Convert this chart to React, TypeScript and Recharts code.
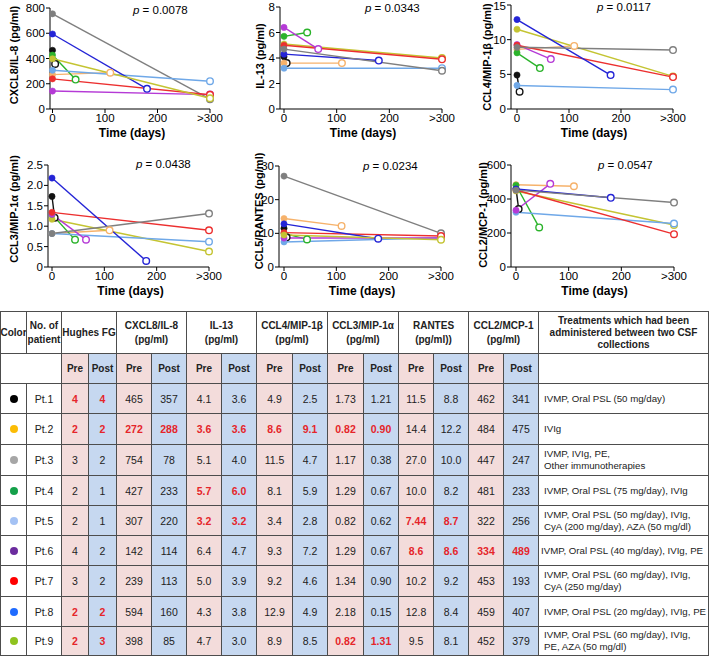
import React from 'react';
import { LineChart, Line, XAxis, YAxis } from 'recharts';

const FONT = '"Liberation Sans", Arial, Helvetica, sans-serif';

// ---------- data ----------
const patients = ['Pt.1', 'Pt.2', 'Pt.3', 'Pt.4', 'Pt.5', 'Pt.6', 'Pt.7', 'Pt.8', 'Pt.9'];
const dotColors = ['#000000', '#fbbc05', '#a6a6a6', '#14a04a', '#a4c2f4', '#6b2c9e', '#ff0000', '#1f6bff', '#8fc31f'];
const lineColors = ['#111111', '#f6b26b', '#7f7f7f', '#2bb32b', '#6fa8e8', '#b53ad6', '#ec2f2f', '#2424d6', '#c4c432'];
const postDays = [5, 110, 300, 44, 300, 65, 300, 180, 300];

const hughesPre = ['4', '2', '3', '2', '2', '4', '3', '2', '2'];
const hughesPost = ['4', '2', '2', '1', '1', '2', '2', '2', '3'];
const cxcl8Pre = ['465', '272', '754', '427', '307', '142', '239', '594', '398'];
const cxcl8Post = ['357', '288', '78', '233', '220', '114', '113', '160', '85'];
const il13Pre = ['4.1', '3.6', '5.1', '5.7', '3.2', '6.4', '5.0', '4.3', '4.7'];
const il13Post = ['3.6', '3.6', '4.0', '6.0', '3.2', '4.7', '3.9', '3.8', '3.0'];
const ccl4Pre = ['4.9', '8.6', '11.5', '8.1', '3.4', '9.3', '9.2', '12.9', '8.9'];
const ccl4Post = ['2.5', '9.1', '4.7', '5.9', '2.8', '7.2', '4.6', '4.9', '8.5'];
const ccl3Pre = ['1.73', '0.82', '1.17', '1.29', '0.82', '1.29', '1.34', '2.18', '0.82'];
const ccl3Post = ['1.21', '0.90', '0.38', '0.67', '0.62', '0.67', '0.90', '0.15', '1.31'];
const rantesPre = ['11.5', '14.4', '27.0', '10.0', '7.44', '8.6', '10.2', '12.8', '9.5'];
const rantesPost = ['8.8', '12.2', '10.0', '8.2', '8.7', '8.6', '9.2', '8.4', '8.1'];
const ccl2Pre = ['462', '484', '447', '481', '322', '334', '453', '459', '452'];
const ccl2Post = ['341', '475', '247', '233', '256', '489', '193', '407', '379'];

const treatments = [
  ['IVMP, Oral PSL (50 mg/day)'],
  ['IVIg'],
  ['IVMP, IVIg, PE,', 'Other immunotherapies'],
  ['IVMP, Oral PSL (75 mg/day), IVIg'],
  ['IVMP, Oral PSL (50 mg/day), IVIg,', 'CyA (200 mg/day), AZA (50 mg/dl)'],
  ['IVMP, Oral PSL (40 mg/day), IVIg, PE'],
  ['IVMP, Oral PSL (60 mg/day), IVIg,', 'CyA (250 mg/day)'],
  ['IVMP, Oral PSL (20 mg/day), IVIg, PE'],
  ['IVMP, Oral PSL (60 mg/day), IVIg,', 'PE, AZA (50 mg/dl)'],
];

const tableGroups = [
  { name: ['Hughes FG'], pre: hughesPre, post: hughesPost, red: [0, 1, 7, 8] },
  { name: ['CXCL8/IL-8', '(pg/ml)'], pre: cxcl8Pre, post: cxcl8Post, red: [1] },
  { name: ['IL-13', '(pg/ml)'], pre: il13Pre, post: il13Post, red: [1, 3, 4] },
  { name: ['CCL4/MIP-1β', '(pg/ml)'], pre: ccl4Pre, post: ccl4Post, red: [1] },
  { name: ['CCL3/MIP-1α', '(pg/ml)'], pre: ccl3Pre, post: ccl3Post, red: [1, 8] },
  { name: ['RANTES', '(pg/ml))'], pre: rantesPre, post: rantesPost, red: [4, 5] },
  { name: ['CCL2/MCP-1', '(pg/ml)'], pre: ccl2Pre, post: ccl2Post, red: [5] },
];

const charts = [
  { yLabel: 'CXCL8/IL-8 (pg/ml)', pre: cxcl8Pre, post: cxcl8Post, yTicks: [0, 200, 400, 600, 800], p: '0.0078', swap: false, purpleDay: 300, fmt: 'int' },
  { yLabel: 'IL-13 (pg/ml)', pre: il13Pre, post: il13Post, yTicks: [0, 2, 4, 6, 8], p: '0.0343', swap: true, purpleDay: 65, fmt: 'int' },
  { yLabel: 'CCL4/MIP-1β (pg/ml)', pre: ccl4Pre, post: ccl4Post, yTicks: [0, 5, 10, 15], p: '0.0117', swap: true, purpleDay: 65, fmt: 'int' },
  { yLabel: 'CCL3/MIP-1α (pg/ml)', pre: ccl3Pre, post: ccl3Post, yTicks: [0, 0.5, 1, 1.5, 2, 2.5], p: '0.0438', swap: true, purpleDay: 65, fmt: 'dec' },
  { yLabel: 'CCL5/RANTES (pg/ml)', pre: rantesPre, post: rantesPost, yTicks: [0, 10, 20, 30], p: '0.0234', swap: false, purpleDay: 300, fmt: 'int' },
  { yLabel: 'CCL2/MCP-1 (pg/ml)', pre: ccl2Pre, post: ccl2Post, yTicks: [0, 200, 400, 600], p: '0.0547', swap: true, purpleDay: 65, fmt: 'int' },
];

// ---------- layout (pixel positions, kept separate from the data) ----------
const layouts = [
  { left: 0, top: 0, width: 230, axisX: 50, x0: 52.5, x300: 210, plotTop: 8, plotBottom: 109, labelX: 14, labelY: 55, pX: 133, pY: 10 },
  { left: 230, top: 0, width: 230, axisX: 280, x0: 284, x300: 442, plotTop: 7, plotBottom: 109, labelX: 260, labelY: 56, pX: 365, pY: 8 },
  { left: 460, top: 0, width: 249, axisX: 511, x0: 517, x300: 673, plotTop: 5, plotBottom: 109, labelX: 487, labelY: 57, pX: 597, pY: 7 },
  { left: 0, top: 150, width: 230, axisX: 48, x0: 52, x300: 209, plotTop: 165, plotBottom: 267, labelX: 14, labelY: 209, pX: 136, pY: 164 },
  { left: 230, top: 150, width: 230, axisX: 279, x0: 284, x300: 441, plotTop: 166, plotBottom: 267, labelX: 259, labelY: 211, pX: 363, pY: 166 },
  { left: 460, top: 150, width: 249, axisX: 511, x0: 516, x300: 674, plotTop: 165, plotBottom: 267, labelX: 483, labelY: 215, pX: 598, pY: 165 },
];

const X = [0, 26, 61, 88, 116, 151, 186, 221, 256, 292, 327, 363, 398, 433, 468, 503, 538, 708];
const Y = [311, 353, 383, 413, 444, 475, 505, 535, 565, 596, 626, 655];
const PINK = '#f3dcdb';
const BLUE = '#c6d8f0';
const BORDER = '#4d4d4d';
const RED = '#e5252a';

const makeDot = (color: string) => (props: any) => {
  const { cx, cy, index } = props;
  if (cx == null || cy == null) return <g key={`e${index}`} />;
  return index === 0 ? (
    <circle key={`p${index}`} cx={cx} cy={cy} r={3.1} fill={color} stroke={color} strokeWidth={0.6} />
  ) : (
    <circle key={`q${index}`} cx={cx} cy={cy} r={3.3} fill="#ffffff" stroke={color} strokeWidth={1.4} />
  );
};

function SmallChart({ idx }: { idx: number }) {
  const c = charts[idx];
  const L = layouts[idx];
  const height = L.plotBottom + 33 - L.top;
  const xMin = (-300 * (L.x0 - L.axisX)) / (L.x300 - L.x0);
  const series = patients.map((_, i) => {
    let color = lineColors[i];
    if (c.swap && i === 2) color = lineColors[8];
    if (c.swap && i === 8) color = lineColors[2];
    const day = i === 5 ? c.purpleDay : postDays[i];
    return {
      color,
      data: [
        { x: 0, y: parseFloat(c.pre[i]) },
        { x: day, y: parseFloat(c.post[i]) },
      ],
    };
  });
  const yMax = c.yTicks[c.yTicks.length - 1];
  const timeX = (L.axisX + L.x300) / 2 + 2 - L.left;
  const timeY = L.plotBottom + 24 - L.top;
  return (
    <div style={{ position: 'absolute', left: L.left, top: L.top, width: L.width, height }}>
      <LineChart
        width={L.width}
        height={height}
        margin={{ top: L.plotTop - L.top, right: L.left + L.width - L.x300, left: 0, bottom: 0 }}
      >
        <XAxis
          type="number"
          dataKey="x"
          domain={[xMin, 300]}
          ticks={[0, 100, 200, 300]}
          tickFormatter={(v: number) => (v === 300 ? '>300' : String(v))}
          height={33}
          tickSize={4}
          tickMargin={1}
          axisLine={{ stroke: '#000', strokeWidth: 1 }}
          tickLine={{ stroke: '#000', strokeWidth: 1 }}
          tick={{ fontSize: 11.5, fill: '#000', fontFamily: FONT }}
          label={{
            content: () => (
              <text x={timeX} y={timeY} textAnchor="middle" dominantBaseline="central" fontFamily={FONT} fontWeight="bold" fontSize={12} fill="#000">
                Time (days)
              </text>
            ),
          }}
        />
        <YAxis
          type="number"
          domain={[0, yMax]}
          ticks={c.yTicks}
          tickFormatter={(v: number) => (c.fmt === 'dec' && v !== 0 ? v.toFixed(1) : String(v))}
          width={L.axisX - L.left}
          tickSize={4}
          tickMargin={1}
          axisLine={{ stroke: '#000', strokeWidth: 1 }}
          tickLine={{ stroke: '#000', strokeWidth: 1 }}
          tick={{ fontSize: 11.5, fill: '#000', fontFamily: FONT }}
          label={{
            content: () => (
              <text
                x={L.labelX - L.left}
                y={L.labelY - L.top}
                transform={`rotate(-90 ${L.labelX - L.left} ${L.labelY - L.top})`}
                textAnchor="middle"
                dominantBaseline="central"
                fontFamily={FONT}
                fontWeight="bold"
                fontSize={11}
                fill="#000"
              >
                {c.yLabel}
              </text>
            ),
          }}
        />
        {series.map((s, i) => (
          <Line
            key={i}
            data={s.data}
            dataKey="y"
            stroke={s.color}
            strokeWidth={1.4}
            dot={makeDot(s.color)}
            activeDot={false}
            isAnimationActive={false}
          />
        ))}
      </LineChart>
      <div
        style={{
          position: 'absolute',
          left: L.pX - L.left,
          top: L.pY - L.top - 7,
          fontFamily: FONT,
          fontSize: 11.5,
          lineHeight: '14px',
          color: '#000',
          whiteSpace: 'nowrap',
        }}
      >
        <i>p</i> = {c.p}
      </div>
    </div>
  );
}

function Cell(props: { c0: number; c1: number; r0: number; r1: number; bg?: string; align?: string; style?: any; children?: any }) {
  const { c0, c1, r0, r1, bg, align, style, children } = props;
  return (
    <div
      style={{
        position: 'absolute',
        left: X[c0],
        top: Y[r0],
        width: X[c1] - X[c0] + 1,
        height: Y[r1] - Y[r0] + 1,
        boxSizing: 'border-box',
        border: `1px solid ${BORDER}`,
        background: bg || '#ffffff',
        display: 'flex',
        flexDirection: 'column',
        alignItems: align === 'left' ? 'flex-start' : 'center',
        justifyContent: 'center',
        textAlign: align === 'left' ? 'left' : 'center',
        fontFamily: FONT,
        fontSize: 10,
        color: '#222',
        whiteSpace: 'nowrap',
        overflow: 'visible',
        ...style,
      }}
    >
      {children}
    </div>
  );
}

function DataTable() {
  const cells: any[] = [];
  const hdr = { fontWeight: 'bold', lineHeight: '14px', color: '#222' };
  cells.push(<Cell key="h-color" c0={0} c1={1} r0={0} r1={1} style={hdr}>Color</Cell>);
  cells.push(
    <Cell key="h-no" c0={1} c1={2} r0={0} r1={1} style={hdr}>
      <div>No. of</div>
      <div>patient</div>
    </Cell>
  );
  tableGroups.forEach((g, gi) => {
    cells.push(
      <Cell key={`h-g${gi}`} c0={2 + gi * 2} c1={4 + gi * 2} r0={0} r1={1} style={hdr}>
        {g.name.map((n, k) => (
          <div key={k}>{n}</div>
        ))}
      </Cell>
    );
    cells.push(<Cell key={`s-pre${gi}`} c0={2 + gi * 2} c1={3 + gi * 2} r0={1} r1={2} bg={PINK} style={hdr}>Pre</Cell>);
    cells.push(<Cell key={`s-post${gi}`} c0={3 + gi * 2} c1={4 + gi * 2} r0={1} r1={2} bg={BLUE} style={hdr}>Post</Cell>);
  });
  cells.push(
    <Cell key="h-tr" c0={16} c1={17} r0={0} r1={1} style={{ ...hdr, lineHeight: '12px' }}>
      <div>Treatments which had been</div>
      <div>administered between two CSF</div>
      <div>collections</div>
    </Cell>
  );
  cells.push(<Cell key="s-blank" c0={0} c1={2} r0={1} r1={2} />);
  cells.push(<Cell key="s-blank2" c0={16} c1={17} r0={1} r1={2} />);

  patients.forEach((pt, i) => {
    const r = 2 + i;
    cells.push(
      <Cell key={`d-c${i}`} c0={0} c1={1} r0={r} r1={r + 1}>
        <svg width={10} height={10}>
          <circle cx={5} cy={5} r={4} fill={dotColors[i]} />
        </svg>
      </Cell>
    );
    cells.push(<Cell key={`d-p${i}`} c0={1} c1={2} r0={r} r1={r + 1} style={{ fontSize: 10.5 }}>{pt}</Cell>);
    tableGroups.forEach((g, gi) => {
      const red = g.red.indexOf(i) >= 0;
      const st = red ? { color: RED, fontWeight: 'bold', fontSize: 10.5 } : { fontSize: 10.5 };
      cells.push(<Cell key={`d-${i}-${gi}a`} c0={2 + gi * 2} c1={3 + gi * 2} r0={r} r1={r + 1} bg={PINK} style={st}>{g.pre[i]}</Cell>);
      cells.push(<Cell key={`d-${i}-${gi}b`} c0={3 + gi * 2} c1={4 + gi * 2} r0={r} r1={r + 1} bg={BLUE} style={st}>{g.post[i]}</Cell>);
    });
    cells.push(
      <Cell key={`d-t${i}`} c0={16} c1={17} r0={r} r1={r + 1} align="left" style={{ paddingLeft: i === 5 ? 2 : 5, lineHeight: '12px', fontSize: 9.7 }}>
        {treatments[i].map((t, k) => (
          <div key={k}>{t}</div>
        ))}
      </Cell>
    );
  });
  return <>{cells}</>;
}

export default function App() {
  return (
    <div style={{ position: 'absolute', left: 0, top: 0, width: 709, height: 656, background: '#ffffff', overflow: 'hidden' }}>
      {charts.map((_, i) => (
        <SmallChart key={i} idx={i} />
      ))}
      <DataTable />
    </div>
  );
}
